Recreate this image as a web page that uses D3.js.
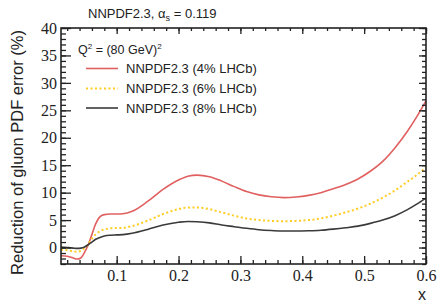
<!DOCTYPE html>
<html><head><meta charset="utf-8">
<script src="https://cdn.jsdelivr.net/npm/d3@7"></script>
<style>body{margin:0;background:#fff}svg{display:block}
.tk text{font-family:'Liberation Serif','Times New Roman',serif;font-size:16px;fill:#222}
</style>
</head><body>
<svg id="c" width="437" height="304"></svg>
<script>
const xs = [0.01,0.02,0.03,0.036,0.042,0.048,0.054,0.06,0.066,0.072,0.08,0.09,0.1,0.11,0.125,0.15,0.175,0.2,0.215,0.23,0.25,0.27,0.29,0.31,0.33,0.35,0.37,0.39,0.41,0.43,0.45,0.47,0.49,0.51,0.53,0.55,0.57,0.585,0.6];
const red4 = [-1.5,-1.6,-1.9,-2.1,-1.9,-0.9,0.5,2.4,4.3,5.5,6.0,6.1,6.1,6.15,6.6,8.4,10.6,12.3,13.0,13.2,12.9,12.1,11.1,10.2,9.6,9.25,9.1,9.2,9.5,10.0,10.7,11.5,12.5,13.9,15.7,18.2,21.2,23.8,26.7];
const yel6 = [-0.4,-0.5,-0.7,-0.75,-0.6,-0.1,0.6,1.6,2.4,2.9,3.3,3.5,3.55,3.6,3.9,4.9,6.1,7.0,7.3,7.3,7.0,6.4,5.8,5.3,5.0,4.85,4.8,4.85,5.0,5.3,5.8,6.4,7.1,8.0,9.1,10.4,12.0,13.2,14.6];
const blk8 = [0.1,0.0,-0.1,-0.15,-0.1,0.1,0.5,1.0,1.5,1.8,2.1,2.25,2.3,2.35,2.6,3.3,4.1,4.6,4.75,4.7,4.5,4.1,3.8,3.5,3.25,3.1,3.0,3.0,3.05,3.15,3.35,3.6,3.9,4.4,5.0,5.8,6.9,7.9,9.0];
const seriesNames = ["NNPDF2.3 (4% LHCb)","NNPDF2.3 (6% LHCb)","NNPDF2.3 (8% LHCb)"];
const xTicks = [0.1,0.2,0.3,0.4,0.5,0.6];
const yTicks = [0,5,10,15,20,25,30,35,40];

const svg = d3.select("#c");
const L=61,R=426,T=28,B=264;
const x = d3.scaleLinear().domain([0.01,0.6]).range([L,R]);
const y = d3.scaleLinear().domain([-3,40]).range([B,T]);

const styles = [
  {data:red4, color:"#e06060", w:1.6, dash:null},
  {data:yel6, color:"#ffcc22", w:2, dash:"2,2.5"},
  {data:blk8, color:"#3a3a3a", w:1.6, dash:null}
];

svg.append("clipPath").attr("id","cp").append("rect").attr("x",L).attr("y",T).attr("width",R-L).attr("height",B-T);
const line = d3.line().x(d=>x(d[0])).y(d=>y(d[1])).curve(d3.curveMonotoneX);
const g = svg.append("g").attr("clip-path","url(#cp)");
styles.forEach(s=>{
  g.append("path").datum(xs.map((v,i)=>[v,s.data[i]]))
    .attr("d",line).attr("fill","none").attr("stroke",s.color)
    .attr("stroke-width",s.w).attr("stroke-dasharray",s.dash);
});

const minorX = d3.range(0.02,0.6001,0.02);
const minorY = d3.range(-3,40.001,1);
const ax = (sel)=>sel.attr("class","tk");
ax(svg.append("g")).attr("transform",`translate(0,${B})`).call(d3.axisBottom(x).tickValues(xTicks).tickSize(-8).tickPadding(6).tickFormat(d3.format(".1f")));
ax(svg.append("g")).attr("transform",`translate(0,${B})`).call(d3.axisBottom(x).tickValues(minorX).tickSize(-4).tickFormat(""));
ax(svg.append("g")).attr("transform",`translate(0,${T})`).call(d3.axisTop(x).tickValues(xTicks).tickSize(-6).tickFormat(""));
ax(svg.append("g")).attr("transform",`translate(0,${T})`).call(d3.axisTop(x).tickValues(minorX).tickSize(-3).tickFormat(""));
ax(svg.append("g")).attr("transform",`translate(${L},0)`).call(d3.axisLeft(y).tickValues(yTicks).tickSize(-10).tickPadding(4));
ax(svg.append("g")).attr("transform",`translate(${L},0)`).call(d3.axisLeft(y).tickValues(minorY).tickSize(-5).tickFormat(""));
ax(svg.append("g")).attr("transform",`translate(${R},0)`).call(d3.axisRight(y).tickValues(yTicks).tickSize(-7).tickFormat(""));
ax(svg.append("g")).attr("transform",`translate(${R},0)`).call(d3.axisRight(y).tickValues(minorY).tickSize(-4).tickFormat(""));

svg.selectAll(".domain").remove();
svg.selectAll(".tick line").attr("stroke","#222").attr("stroke-width",1.3);
svg.selectAll(".tk").attr("font-family",null).attr("font-size",null);
svg.append("rect").attr("x",L).attr("y",T).attr("width",R-L).attr("height",B-T).attr("fill","none").attr("stroke","#222").attr("stroke-width",1.6);

const sans = "'Liberation Sans', Arial, Helvetica, sans-serif";
const t = svg.append("text").attr("x",88).attr("y",18).attr("font-family",sans).attr("font-size",13).attr("fill","#222");
t.append("tspan").text("NNPDF2.3, α");
t.append("tspan").attr("dy",2.5).attr("font-size",9).text("s");
t.append("tspan").attr("dy",-2.5).text(" = 0.119");

const q = svg.append("text").attr("x",78).attr("y",54).attr("font-family",sans).attr("font-size",12.5).attr("fill","#222");
q.append("tspan").text("Q");
q.append("tspan").attr("dy",-5).attr("font-size",8).text("2");
q.append("tspan").attr("dy",5).text(" = (80 GeV)");
q.append("tspan").attr("dy",-5).attr("font-size",8).text("2");

const ly = [68.5,88.5,108];
styles.forEach((s,i)=>{
  svg.append("line").attr("x1",86).attr("x2",118).attr("y1",ly[i]).attr("y2",ly[i])
    .attr("stroke",s.color).attr("stroke-width",s.w).attr("stroke-dasharray",s.dash);
  svg.append("text").attr("x",126).attr("y",ly[i]).attr("dy","0.36em").attr("font-family",sans).attr("font-size",13).attr("fill","#222").text(seriesNames[i]);
});

svg.append("text").attr("transform",`translate(23,${(28+277)/2}) rotate(-90)`).attr("text-anchor","middle")
  .attr("font-family",sans).attr("font-size",16.5).attr("fill","#222").text("Reduction of gluon PDF error (%)");
svg.append("text").attr("x",426).attr("y",300).attr("text-anchor","end").attr("font-family",sans).attr("font-size",16).attr("fill","#222").text("x");
</script>
</body></html>
